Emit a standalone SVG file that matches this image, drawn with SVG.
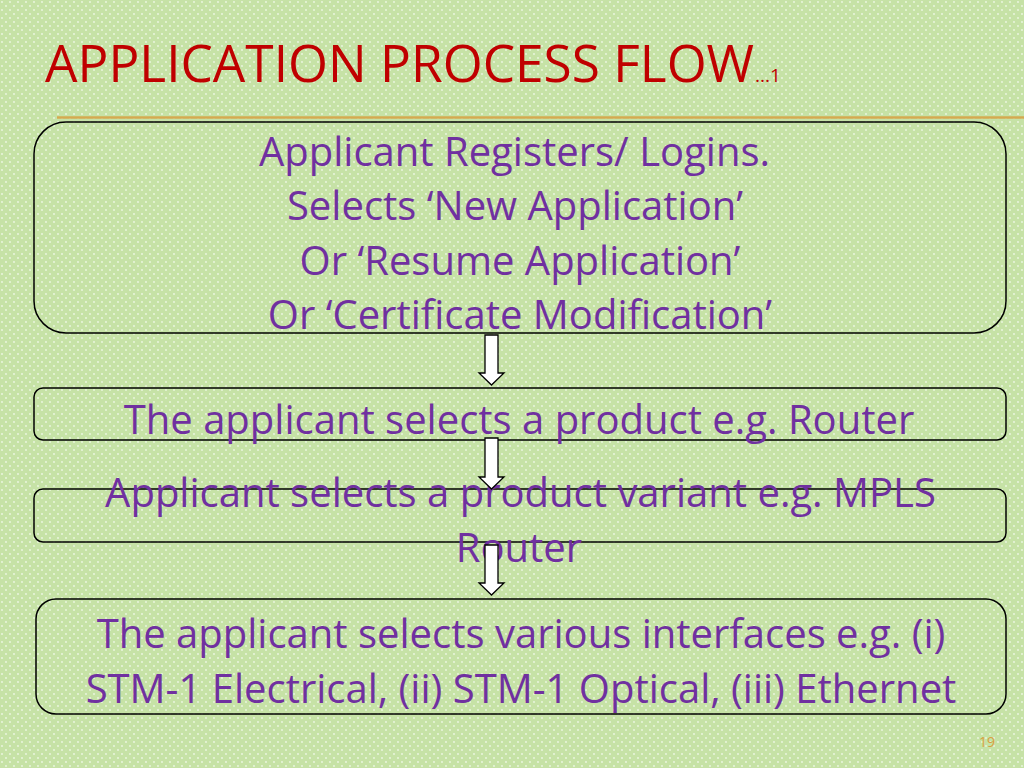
<svg xmlns="http://www.w3.org/2000/svg" width="1024" height="768" viewBox="0 0 1024 768">
<defs>
<pattern id="dots" width="8" height="8" patternUnits="userSpaceOnUse">
<rect width="8" height="8" fill="#c6e2a6"/>
<circle cx="2" cy="2" r="0.9" fill="#eef7e4"/>
<circle cx="6" cy="6" r="0.9" fill="#eef7e4"/>
</pattern>
<style>
.box{fill:none;stroke:#000;stroke-width:1.5}
.t{font-family:"Open Sans","Noto Sans","DejaVu Sans",sans-serif;fill:#7030a0;font-size:40px;text-anchor:middle}
.arrow{fill:#fff;stroke:#000;stroke-width:1.3}
</style>
</defs>
<rect width="1024" height="768" fill="url(#dots)"/>
<text x="45" y="82" font-family="'Open Sans','Noto Sans',sans-serif" font-size="51.4" fill="#c00000">APPLICATION PROCESS FLOW<tspan font-size="19" dx="1">...1</tspan></text>
<line x1="57" y1="117.5" x2="1024" y2="117.5" stroke="#d4aa50" stroke-width="2.5"/>
<g id="node1">
<rect class="box" x="34" y="122" width="972" height="211" rx="32"/>
<text class="t" x="514.5" y="166">Applicant Registers/ Logins.</text>
<text class="t" x="515" y="220">Selects ‘New Application’</text>
<text class="t" x="520" y="275">Or ‘Resume Application’</text>
<text class="t" x="520" y="329">Or ‘Certificate Modification’</text>
</g>
<g id="node2">
<rect class="box" x="34" y="388" width="972" height="52" rx="9"/>
<text class="t" x="519" y="434">The applicant selects a product e.g. Router</text>
</g>
<g id="node3">
<rect class="box" x="34" y="489" width="972" height="53" rx="9"/>
<text class="t" x="520.5" y="507">Applicant selects a product variant e.g. MPLS</text>
<text class="t" x="519" y="562">Router</text>
</g>
<g id="node4">
<rect class="box" x="36" y="599" width="970" height="115" rx="20"/>
<text class="t" x="521" y="648">The applicant selects various interfaces e.g. (i)</text>
<text class="t" x="521" y="703">STM-1 Electrical, (ii) STM-1 Optical, (iii) Ethernet</text>
</g>
<g id="connectors">
<path class="arrow" d="M485,335 H498 V373 H504 L491.5,385 L479,373 H485 Z"/>
<path class="arrow" d="M485,438 H498 V477 H504 L491.5,489 L479,477 H485 Z"/>
<path class="arrow" d="M485,545 H498 V583 H504 L491.5,595 L479,583 H485 Z"/>
</g>
<text x="987" y="747" font-family="'Open Sans','Noto Sans',sans-serif" font-size="14" fill="#d9a040" text-anchor="middle">19</text>
</svg>
